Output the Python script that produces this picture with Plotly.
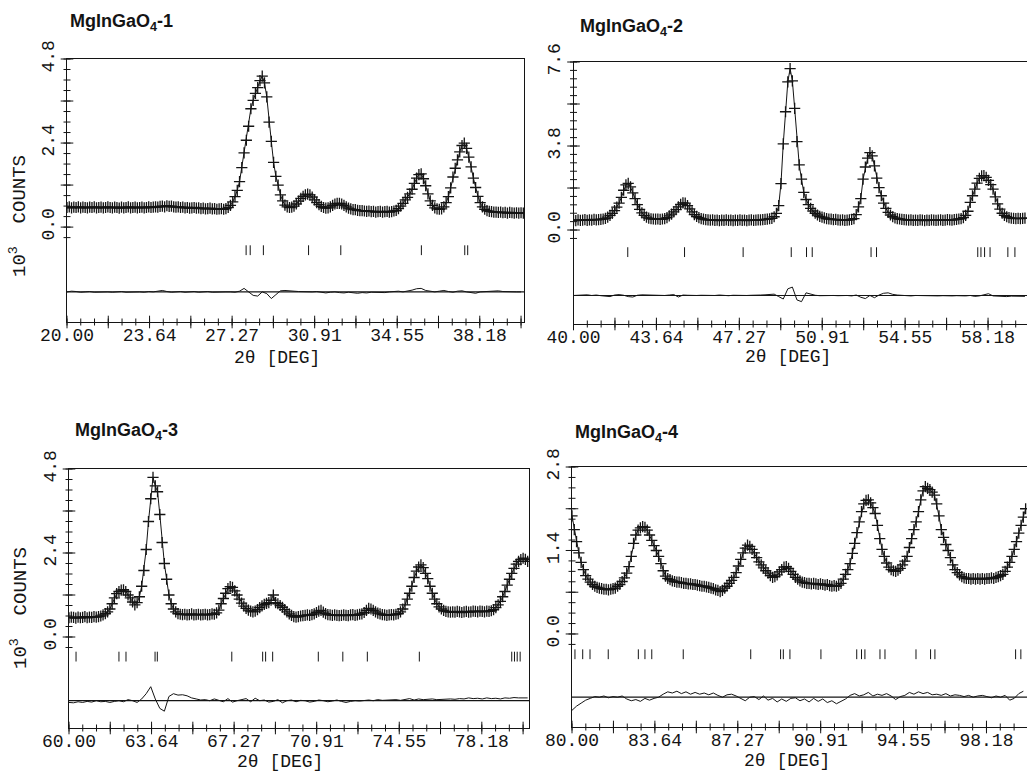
import numpy as np
import plotly.graph_objects as go

W, H = 1027, 773

# ---------------- data ----------------
# observed / calculated profile, in 10^3 counts, sampled every 0.1 deg 2-theta
obs_step = 0.1
diff_step = 0.2

obs_1 = [
    0.56, 0.58, 0.55, 0.57, 0.56, 0.58, 0.55, 0.57, 0.56, 0.55,
    0.57, 0.56, 0.58, 0.55, 0.56, 0.57, 0.55, 0.56, 0.58, 0.56,
    0.55, 0.57, 0.56, 0.54, 0.57, 0.55, 0.56, 0.58, 0.55, 0.56,
    0.57, 0.55, 0.56, 0.57, 0.55, 0.56, 0.58, 0.56, 0.57, 0.58,
    0.57, 0.59, 0.60, 0.58, 0.61, 0.59, 0.60, 0.58, 0.57, 0.58,
    0.56, 0.57, 0.55, 0.56, 0.54, 0.55, 0.56, 0.54, 0.55, 0.53,
    0.54, 0.52, 0.53, 0.54, 0.52, 0.53, 0.51, 0.52, 0.53, 0.51,
    0.53, 0.56, 0.62, 0.72, 0.87, 1.05, 1.30, 1.70, 2.12, 2.48,
    2.88, 3.38, 3.62, 3.82, 3.98, 4.18, 4.31, 4.12, 3.72, 3.00,
    2.45, 1.85, 1.45, 1.20, 0.92, 0.75, 0.63, 0.58, 0.56, 0.57,
    0.60, 0.66, 0.74, 0.82, 0.88, 0.92, 0.94, 0.92, 0.86, 0.78,
    0.70, 0.64, 0.59, 0.56, 0.54, 0.55, 0.58, 0.62, 0.66, 0.68,
    0.68, 0.66, 0.62, 0.58, 0.54, 0.52, 0.50, 0.50, 0.48, 0.47,
    0.47, 0.46, 0.45, 0.46, 0.44, 0.45, 0.43, 0.44, 0.45, 0.43,
    0.44, 0.45, 0.43, 0.44, 0.46, 0.48, 0.53, 0.60, 0.68, 0.78,
    0.85, 0.95, 1.08, 1.25, 1.40, 1.50, 1.52, 1.38, 1.18, 0.95,
    0.75, 0.62, 0.55, 0.52, 0.51, 0.52, 0.58, 0.70, 0.87, 1.12,
    1.43, 1.68, 1.92, 2.15, 2.33, 2.40, 2.25, 2.00, 1.72, 1.40,
    1.13, 0.88, 0.70, 0.58, 0.51, 0.47, 0.45, 0.44, 0.43, 0.43,
    0.42, 0.43, 0.41, 0.42, 0.40, 0.42, 0.41, 0.40, 0.41, 0.40,
    0.41, 0.40,
]
obs_2 = [
    0.45, 0.43, 0.46, 0.44, 0.45, 0.47, 0.44, 0.46, 0.45, 0.48,
    0.46, 0.47, 0.48, 0.50, 0.53, 0.58, 0.66, 0.75, 0.88, 1.04,
    1.22, 1.48, 1.80, 2.04, 2.11, 1.95, 1.68, 1.42, 1.15, 0.93,
    0.78, 0.66, 0.58, 0.54, 0.51, 0.50, 0.49, 0.50, 0.48, 0.50,
    0.52, 0.56, 0.64, 0.72, 0.82, 0.92, 1.05, 1.16, 1.23, 1.22,
    1.10, 0.96, 0.82, 0.70, 0.62, 0.56, 0.52, 0.49, 0.47, 0.46,
    0.45, 0.46, 0.44, 0.45, 0.43, 0.45, 0.44, 0.46, 0.44, 0.45,
    0.43, 0.45, 0.44, 0.46, 0.44, 0.45, 0.43, 0.45, 0.46, 0.44,
    0.45, 0.46, 0.46, 0.47, 0.48, 0.49, 0.51, 0.53, 0.60, 0.75,
    1.10, 2.10, 3.90, 5.35, 6.70, 7.30, 6.75, 5.50, 4.00, 2.95,
    2.30, 1.70, 1.38, 1.15, 0.98, 0.86, 0.76, 0.68, 0.62, 0.58,
    0.55, 0.52, 0.50, 0.49, 0.47, 0.48, 0.46, 0.45, 0.46, 0.44,
    0.45, 0.46, 0.48, 0.52, 0.70, 1.05, 1.42, 2.30, 2.85, 3.25,
    3.50, 3.35, 2.90, 2.35, 1.92, 1.55, 1.22, 0.98, 0.80, 0.68,
    0.60, 0.55, 0.52, 0.50, 0.48, 0.47, 0.46, 0.45, 0.46, 0.44,
    0.45, 0.44, 0.46, 0.45, 0.43, 0.45, 0.44, 0.46, 0.45, 0.44,
    0.45, 0.46, 0.44, 0.45, 0.47, 0.46, 0.45, 0.47, 0.48, 0.50,
    0.52, 0.56, 0.66, 0.85, 1.25, 1.55, 1.85, 2.12, 2.34, 2.45,
    2.46, 2.38, 2.25, 2.05, 1.85, 1.50, 1.18, 0.95, 0.76, 0.66,
    0.60, 0.56, 0.54, 0.53, 0.52, 0.53, 0.52, 0.53, 0.54, 0.54,
]
obs_3 = [
    0.55, 0.57, 0.56, 0.54, 0.57, 0.55, 0.56, 0.58, 0.55, 0.57,
    0.56, 0.58, 0.57, 0.58, 0.60, 0.63, 0.67, 0.72, 0.80, 0.95,
    1.12, 1.24, 1.30, 1.34, 1.35, 1.30, 1.20, 1.12, 1.00, 0.92,
    0.98, 1.15, 1.45, 1.90, 2.50, 3.30, 3.95, 4.56, 4.32, 4.15,
    3.50, 2.70, 2.10, 1.65, 1.20, 0.95, 0.80, 0.72, 0.67, 0.65,
    0.64, 0.65, 0.63, 0.64, 0.66, 0.63, 0.64, 0.65, 0.63, 0.64,
    0.65, 0.63, 0.64, 0.66, 0.65, 0.69, 0.77, 0.95, 1.10, 1.25,
    1.38, 1.44, 1.42, 1.32, 1.20, 1.08, 0.97, 0.88, 0.82, 0.77,
    0.74, 0.72, 0.74, 0.78, 0.84, 0.89, 0.93, 0.96, 0.98, 1.05,
    1.20, 0.98, 0.95, 0.90, 0.85, 0.78, 0.72, 0.66, 0.62, 0.58,
    0.57, 0.58, 0.60, 0.61, 0.62, 0.63, 0.62, 0.64, 0.66, 0.70,
    0.74, 0.76, 0.71, 0.67, 0.64, 0.63, 0.62, 0.63, 0.62, 0.61,
    0.62, 0.63, 0.62, 0.61, 0.63, 0.64, 0.62, 0.63, 0.65, 0.66,
    0.70, 0.76, 0.82, 0.80, 0.76, 0.72, 0.68, 0.66, 0.64, 0.63,
    0.62, 0.63, 0.64, 0.63, 0.65, 0.67, 0.72, 0.80, 0.92, 1.08,
    1.25, 1.45, 1.70, 1.88, 2.00, 2.06, 1.98, 1.82, 1.67, 1.45,
    1.25, 1.08, 0.95, 0.86, 0.80, 0.76, 0.73, 0.72, 0.71, 0.72,
    0.71, 0.73, 0.72, 0.70, 0.72, 0.73, 0.71, 0.72, 0.74, 0.73,
    0.72, 0.74, 0.73, 0.72, 0.74, 0.73, 0.75, 0.78, 0.84, 0.92,
    1.02, 1.15, 1.30, 1.48, 1.65, 1.82, 1.96, 2.08, 2.16, 2.21,
    2.25, 2.22, 2.16,
]
obs_4 = [
    1.98, 1.75, 1.55, 1.36, 1.20, 1.08, 0.98, 0.92, 0.87, 0.83,
    0.80, 0.78, 0.77, 0.76, 0.75, 0.75, 0.74, 0.75, 0.76, 0.77,
    0.80, 0.83, 0.88, 0.94, 1.02, 1.13, 1.30, 1.52, 1.66, 1.74,
    1.78, 1.80, 1.79, 1.74, 1.66, 1.57, 1.48, 1.40, 1.30, 1.18,
    1.06, 0.97, 0.93, 0.91, 0.89, 0.88, 0.87, 0.87, 0.86, 0.85,
    0.85, 0.84, 0.84, 0.83, 0.83, 0.82, 0.81, 0.80, 0.80, 0.79,
    0.78, 0.77, 0.76, 0.74, 0.73, 0.71, 0.73, 0.77, 0.80, 0.85,
    0.90, 0.95, 1.03, 1.14, 1.25, 1.36, 1.44, 1.49, 1.47, 1.42,
    1.36, 1.28, 1.21, 1.16, 1.11, 1.06, 1.02, 0.98, 0.95, 0.96,
    0.99, 1.04, 1.08, 1.12, 1.13, 1.10, 1.05, 1.00, 0.95, 0.92,
    0.89, 0.87, 0.86, 0.85, 0.85, 0.84, 0.85, 0.84, 0.83, 0.84,
    0.83, 0.82, 0.83, 0.81, 0.80, 0.81, 0.80, 0.82, 0.85, 0.92,
    1.00, 1.08, 1.18, 1.35, 1.52, 1.70, 1.88, 2.05, 2.18, 2.24,
    2.25, 2.20, 2.12, 2.02, 1.82, 1.60, 1.42, 1.30, 1.19, 1.12,
    1.08, 1.06, 1.05, 1.07, 1.10, 1.16, 1.22, 1.30, 1.45, 1.60,
    1.75, 1.88, 2.05, 2.25, 2.40, 2.47, 2.44, 2.42, 2.38, 2.33,
    2.18, 1.98, 1.75, 1.62, 1.50, 1.40, 1.28, 1.16, 1.08, 1.03,
    0.99, 0.96, 0.94, 0.93, 0.93, 0.92, 0.93, 0.92, 0.93, 0.92,
    0.93, 0.92, 0.93, 0.93, 0.94, 0.93, 0.95, 0.96, 0.98, 1.00,
    1.05, 1.12, 1.20, 1.30, 1.42, 1.55, 1.69, 1.82, 1.96, 2.10,
]

# difference curves (obs - calc), sampled every 0.2 deg
diff_1 = [
    0.00, 0.02, 0.01, -0.01, 0.00, 0.01, -0.01, 0.00, 0.01, 0.00,
    -0.01, 0.00, 0.01, -0.01, 0.00, 0.01, 0.00, -0.01, 0.01, 0.00,
    0.02, 0.04, 0.01, -0.01, 0.00, 0.01, -0.01, 0.00, 0.01, -0.01,
    0.00, 0.01, -0.01, 0.00, 0.01, 0.00, 0.00, -0.01, 0.02, 0.10,
    0.00, -0.10, -0.12, 0.00, -0.05, -0.19, -0.08, 0.03, 0.04, 0.02,
    0.02, 0.01, 0.00, -0.01, 0.00, 0.01, -0.02, -0.03, -0.01, 0.00,
    -0.02, -0.03, -0.01, -0.02, -0.04, -0.02, -0.03, -0.01, -0.02, -0.01,
    -0.02, 0.00, 0.01, 0.02, 0.00, 0.02, 0.05, 0.09, 0.10, 0.04,
    0.01, 0.00, 0.02, 0.04, 0.01, -0.01, 0.02, 0.03, 0.00, -0.02,
    -0.04, 0.00, 0.01, 0.00, 0.02, 0.03, 0.01, 0.00, -0.01, 0.00,
    0.00,
]
diff_2 = [
    0.00, 0.01, -0.01, 0.03, 0.00, 0.02, -0.01, -0.03, -0.05, 0.02,
    0.04, 0.01, -0.05, -0.07, 0.01, 0.03, 0.02, 0.00, 0.01, -0.01,
    0.00, 0.02, 0.04, -0.07, 0.02, 0.01, -0.01, 0.00, 0.01, 0.00,
    0.01, 0.00, 0.02, 0.00, -0.01, 0.01, 0.00, 0.02, 0.00, 0.01,
    0.00, 0.02, 0.03, 0.05, 0.06, -0.05, -0.16, 0.30, 0.38, -0.20,
    -0.28, 0.12, 0.06, 0.01, -0.01, 0.00, 0.01, 0.00, -0.01, 0.01,
    0.00, -0.02, 0.02, -0.08, -0.14, 0.00, -0.10, 0.02, 0.10, 0.12,
    0.05, 0.02, 0.00, 0.01, -0.02, 0.00, -0.01, 0.00, -0.02, -0.01,
    -0.02, -0.01, -0.03, -0.02, -0.01, -0.03, -0.02, 0.00, -0.04, -0.02,
    0.02, 0.08, -0.02, -0.04, -0.03, -0.05, -0.03, -0.04, -0.05, -0.04,
]
diff_3 = [
    -0.05, -0.06, -0.03, -0.05, -0.02, -0.04, 0.00, -0.03, -0.02, -0.05,
    -0.02, 0.00, -0.03, 0.03, 0.00, -0.05, 0.05, 0.20, 0.40, 0.05,
    -0.22, -0.30, 0.12, 0.20, 0.16, 0.17, 0.14, 0.08, 0.05, 0.02,
    0.03, 0.00, 0.05, 0.02, -0.03, 0.06, -0.04, 0.00, 0.03, 0.06,
    -0.03, 0.07, 0.00, 0.02, -0.04, -0.02, 0.03, -0.06, 0.00, 0.02,
    -0.03, 0.01, 0.00, -0.04, -0.02, 0.02, 0.00, -0.03, -0.01, 0.02,
    -0.02, -0.05, -0.02, 0.00, -0.01, 0.01, 0.02, 0.00, 0.03, 0.01,
    0.02, 0.04, 0.03, 0.01, 0.03, 0.06, 0.02, 0.05, 0.03, 0.04,
    0.05, 0.03, 0.04, 0.06, 0.05, 0.04, 0.06, 0.05, 0.08, 0.06,
    0.07, 0.05, 0.08, 0.06, 0.07, 0.05, 0.08, 0.07, 0.09, 0.08,
    0.09, 0.08,
]
diff_4 = [
    -0.22, -0.15, -0.10, -0.05, -0.02, 0.01, 0.00, 0.02, -0.01, 0.01,
    0.00, 0.02, -0.03, -0.06, -0.04, -0.07, -0.02, -0.05, -0.02, 0.00,
    0.05, 0.09, 0.07, 0.10, 0.06, 0.09, 0.05, 0.08, 0.05, 0.07,
    0.04, 0.07, 0.03, 0.00, 0.04, 0.05, 0.02, -0.02, -0.06, 0.00,
    0.01, -0.04, 0.02, -0.05, -0.02, -0.08, -0.03, -0.07, -0.02, -0.01,
    -0.06, -0.03, -0.08, -0.02, -0.07, -0.03, -0.09, -0.06, -0.11, -0.07,
    -0.03, 0.03, 0.06, 0.02, 0.04, 0.08, 0.02, 0.05, 0.03, 0.06,
    0.02, -0.04, 0.01, 0.03, 0.08, 0.05, 0.09, 0.06, 0.08, 0.04,
    0.05, 0.03, 0.06, 0.02, 0.04, 0.03, 0.01, 0.03, 0.00, 0.02,
    0.03, 0.01, -0.01, 0.02, 0.00, 0.03, -0.05, -0.02, 0.06, 0.10,
]

# Bragg reflection positions (deg 2-theta)
refl_1 = [27.89, 28.07, 28.65, 30.64, 32.06, 35.61, 37.52, 37.65]
refl_2 = [42.38, 44.87, 47.44, 49.55, 50.22, 50.47, 53.05, 53.29,
          57.73, 57.87, 58.03, 58.27, 59.05, 59.36]
refl_3 = [60.31, 62.20, 62.51, 63.79, 63.89, 67.17, 68.53, 68.66, 68.97,
          70.98, 72.06, 73.14, 75.43, 79.50, 79.62, 79.74, 79.87]
refl_4 = [80.13, 80.47, 80.79, 81.59, 82.91, 83.20, 83.50, 84.88, 87.84,
          89.15, 89.27, 89.56, 90.92, 92.49, 92.70, 92.85, 93.51, 93.73,
          95.09, 95.73, 95.92, 99.46, 99.69]

start_2theta = [20.0, 40.0, 60.0, 80.0]

x_tick_labels_1 = ["20.00", "23.64", "27.27", "30.91", "34.55", "38.18"]
x_tick_labels_2 = ["40.00", "43.64", "47.27", "50.91", "54.55", "58.18"]
x_tick_labels_3 = ["60.00", "63.64", "67.27", "70.91", "74.55", "78.18"]
x_tick_labels_4 = ["80.00", "83.64", "87.27", "90.91", "94.55", "98.18"]

y_tick_labels_1 = ["0.0", "2.4", "4.8"]
y_tick_labels_2 = ["0.0", "3.8", "7.6"]
y_tick_labels_3 = ["0.0", "2.4", "4.8"]
y_tick_labels_4 = ["0.0", "1.4", "2.8"]

titles = ["MgInGaO<sub>4</sub>-1", "MgInGaO<sub>4</sub>-2",
          "MgInGaO<sub>4</sub>-3", "MgInGaO<sub>4</sub>-4"]

# ---------------- layout / style ----------------
INK = "#141414"
MONO = "Liberation Mono"
SANS = "Liberation Sans"


def pxx(x):
    return x / W


def pxy(y):
    return 1 - y / H


panels = [
    dict(obs=obs_1, diff=diff_1, refl=refl_1, x0=start_2theta[0],
         xt=x_tick_labels_1, yt=y_tick_labels_1,
         dx=(67, 524), dy=(59, 322), xr=(20.0, 40.13), yr=(-2.71, 4.8),
         ymaj=1.2, ymin=0.3, refl_y=-0.66, diff_y=-1.85, box=True,
         title=titles[0], tpos=(68, 22), counts=(19, 216), xtit=(277, 358)),
    dict(obs=obs_2, diff=diff_2, refl=refl_2, x0=start_2theta[1],
         xt=x_tick_labels_2, yt=y_tick_labels_2,
         dx=(573.5, 1027), dy=(62, 324), xr=(40.0, 59.89), yr=(-4.25, 7.6),
         ymaj=1.9, ymin=0.38, refl_y=-1.0, diff_y=-2.96, box=False,
         title=titles[1], tpos=(578, 27), counts=None, xtit=(788, 357)),
    dict(obs=obs_3, diff=diff_3, refl=refl_3, x0=start_2theta[2],
         xt=x_tick_labels_3, yt=y_tick_labels_3,
         dx=(69, 529), dy=(469, 728), xr=(60.0, 80.26), yr=(-2.6, 4.8),
         ymaj=1.2, ymin=0.3, refl_y=-0.56, diff_y=-1.82, box=True,
         title=titles[2], tpos=(73, 431), counts=(19, 608), xtit=(280, 762)),
    dict(obs=obs_4, diff=diff_4, refl=refl_4, x0=start_2theta[3],
         xt=x_tick_labels_4, yt=y_tick_labels_4,
         dx=(572, 1027), dy=(467, 727), xr=(80.0, 99.96), yr=(-1.56, 2.8),
         ymaj=0.7, ymin=0.175, refl_y=-0.34, diff_y=-1.06, box=False,
         title=titles[3], tpos=(573, 433), counts=None, xtit=(787, 761)),
]

fig = go.Figure()
shapes = []
annotations = []
layout_axes = {}

for i, p in enumerate(panels, start=1):
    xa = "x" if i == 1 else f"x{i}"
    ya = "y" if i == 1 else f"y{i}"
    xkey = "xaxis" if i == 1 else f"xaxis{i}"
    ykey = "yaxis" if i == 1 else f"yaxis{i}"

    tt = np.round(p["x0"] + obs_step * np.arange(len(p["obs"])), 3)
    td = np.round(p["x0"] + diff_step * np.arange(len(p["diff"])), 3)

    # observed points (+) joined by the calculated profile line
    fig.add_trace(go.Scatter(
        x=tt, y=p["obs"], xaxis=xa, yaxis=ya, mode="lines+markers",
        line=dict(color=INK, width=1),
        marker=dict(symbol="cross-thin", size=8,
                    line=dict(color=INK, width=1.3)),
        showlegend=False, hoverinfo="skip"))

    # reflection markers
    fig.add_trace(go.Scatter(
        x=p["refl"], y=[p["refl_y"]] * len(p["refl"]), xaxis=xa, yaxis=ya,
        mode="markers",
        marker=dict(symbol="line-ns", size=7, line=dict(color=INK, width=1)),
        showlegend=False, hoverinfo="skip"))

    # difference curve
    fig.add_trace(go.Scatter(
        x=td, y=[p["diff_y"] + v for v in p["diff"]], xaxis=xa, yaxis=ya,
        mode="lines", line=dict(color=INK, width=1),
        showlegend=False, hoverinfo="skip"))

    shapes.append(dict(type="line", xref=f"{xa} domain", x0=0, x1=1,
                       yref=ya, y0=p["diff_y"], y1=p["diff_y"],
                       line=dict(color=INK, width=1.2)))

    # crossing tick marks on the left (y) axis
    ylab = [float(s) for s in p["yt"]]
    ytop = ylab[-1]
    ymin_vals = np.round(np.arange(-p["ymin"], ytop + 1e-6, p["ymin"]), 4)
    ymaj_vals = np.round(np.arange(0, ytop + 1e-6, p["ymaj"]), 4)
    fig.add_trace(go.Scatter(
        x=[p["xr"][0]] * len(ymin_vals), y=ymin_vals, xaxis=xa, yaxis=ya,
        mode="markers", cliponaxis=False,
        marker=dict(symbol="line-ew", size=5, line=dict(color=INK, width=1)),
        showlegend=False, hoverinfo="skip"))
    fig.add_trace(go.Scatter(
        x=[p["xr"][0]] * len(ymaj_vals), y=ymaj_vals, xaxis=xa, yaxis=ya,
        mode="markers", cliponaxis=False,
        marker=dict(symbol="line-ew", size=9, line=dict(color=INK, width=1)),
        showlegend=False, hoverinfo="skip"))

    # crossing tick marks on the bottom (x) axis
    xlab = [float(s) for s in p["xt"]]
    lab_step = 20.0 / 5.5
    xmin_vals = np.arange(p["xr"][0], p["xr"][1] + 1e-6, lab_step / 6)
    xmaj_vals = np.arange(p["xr"][0], p["xr"][1] + 1e-6, lab_step / 2)
    fig.add_trace(go.Scatter(
        x=xmin_vals, y=[p["yr"][0]] * len(xmin_vals), xaxis=xa, yaxis=ya,
        mode="markers", cliponaxis=False,
        marker=dict(symbol="line-ns", size=5, line=dict(color=INK, width=1)),
        showlegend=False, hoverinfo="skip"))
    fig.add_trace(go.Scatter(
        x=xmaj_vals, y=[p["yr"][0]] * len(xmaj_vals), xaxis=xa, yaxis=ya,
        mode="markers", cliponaxis=False,
        marker=dict(symbol="line-ns", size=9, line=dict(color=INK, width=1)),
        showlegend=False, hoverinfo="skip"))

    layout_axes[xkey] = dict(
        domain=[pxx(p["dx"][0]), pxx(p["dx"][1])], range=list(p["xr"]),
        anchor=ya, showgrid=False, zeroline=False, showline=True,
        linecolor=INK, linewidth=1.2, mirror=True, ticks="",
        tickmode="array", tickvals=xlab, ticktext=p["xt"],
        tickfont=dict(family=MONO, size=18, color=INK),
        ticklabelstandoff=-4, fixedrange=True, automargin=False)
    layout_axes[ykey] = dict(
        domain=[pxy(p["dy"][1]), pxy(p["dy"][0])], range=list(p["yr"]),
        anchor=xa, showgrid=False, zeroline=False, showline=True,
        linecolor=INK, linewidth=1.2, mirror=p["box"], ticks="",
        tickmode="array", tickvals=ylab, ticktext=p["yt"], tickangle=-90,
        tickfont=dict(family=MONO, size=18, color=INK),
        ticklabelstandoff=5, fixedrange=True, automargin=False)

    annotations.append(dict(
        text=f"<b>{p['title']}</b>", xref="paper", yref="paper",
        x=pxx(p["tpos"][0]), y=pxy(p["tpos"][1]), xanchor="left",
        yanchor="middle", showarrow=False,
        font=dict(family=SANS, size=18, color=INK)))
    annotations.append(dict(
        text="2θ [DEG]", xref="paper", yref="paper",
        x=pxx(p["xtit"][0]), y=pxy(p["xtit"][1]), xanchor="center",
        yanchor="middle", showarrow=False,
        font=dict(family=MONO, size=18, color=INK)))
    if p["counts"] is not None:
        annotations.append(dict(
            text="10<sup>3</sup>  COUNTS", xref="paper", yref="paper",
            x=pxx(p["counts"][0]), y=pxy(p["counts"][1]), xanchor="center",
            yanchor="middle", textangle=-90, showarrow=False,
            font=dict(family=MONO, size=19, color=INK)))

fig.update_layout(
    template="none",
    width=W, height=H, margin=dict(l=0, r=0, t=0, b=0, pad=0),
    paper_bgcolor="white", plot_bgcolor="white",
    shapes=shapes, annotations=annotations, showlegend=False,
    **layout_axes)

fig.write_html(
    "out.html", config={"displayModeBar": False},
    post_script="document.body.style.margin='0';"
                "document.body.style.overflow='hidden';")
